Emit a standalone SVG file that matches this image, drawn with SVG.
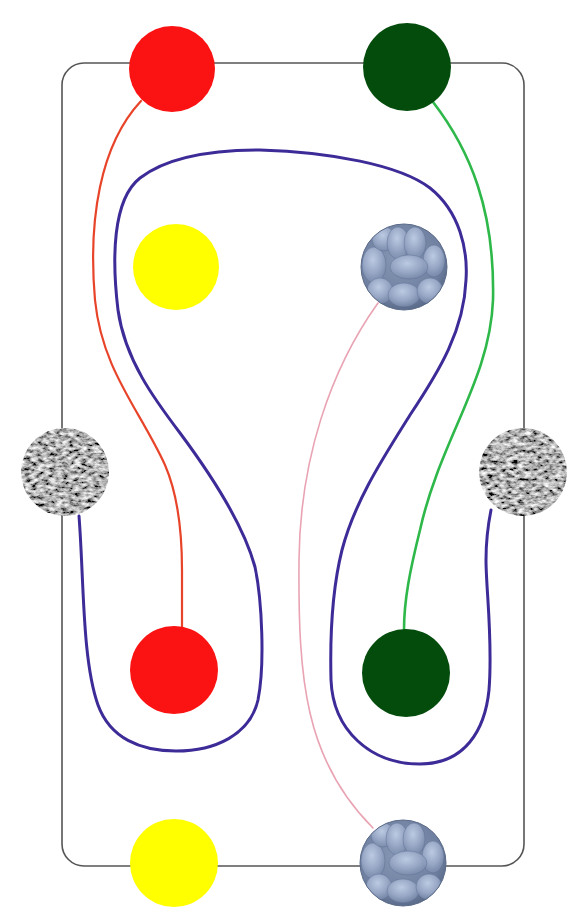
<svg xmlns="http://www.w3.org/2000/svg" width="581" height="922" viewBox="0 0 581 922">
<style>
.frame{fill:none;stroke:#555;stroke-width:1.6}
.wire{fill:none;stroke-linecap:round}
.red-w{stroke:#e8442a;stroke-width:2.2}
.green-w{stroke:#2fb84a;stroke-width:2.6}
.pink-w{stroke:#e9a3b3;stroke-width:1.6}
.purple-w{stroke:#3d2c98;stroke-width:3}
.red{fill:#fb1212}
.dkgreen{fill:#034c0c}
.yellow{fill:#ffff00}
.gray{fill:#888}
</style>
<defs>
<filter id="noise" x="0" y="0" width="1" height="1">
<feTurbulence type="fractalNoise" baseFrequency="0.16 0.28" numOctaves="3" seed="7" result="t"/>
<feColorMatrix in="t" type="matrix" values="1.8 0 0 0 -0.45  1.8 0 0 0 -0.45  1.8 0 0 0 -0.45  0 0 0 0 1" result="g"/>
<feComposite in="g" in2="SourceGraphic" operator="in"/>
</filter>
<radialGradient id="blueBase" cx="0.45" cy="0.4" r="0.6">
<stop offset="0" stop-color="#8797b5"/>
<stop offset="0.8" stop-color="#6f80a0"/>
<stop offset="1" stop-color="#5b6b8a"/>
</radialGradient>
<radialGradient id="lobe" cx="0.45" cy="0.35" r="0.7">
<stop offset="0" stop-color="#bccae2"/>
<stop offset="0.55" stop-color="#96a6c4"/>
<stop offset="1" stop-color="#7a8aab" stop-opacity="0.6"/>
</radialGradient>
<clipPath id="bclip"><circle cx="0" cy="0" r="43"/></clipPath>
<g id="bubble">
<circle cx="0" cy="0" r="43" fill="url(#blueBase)"/>
<g clip-path="url(#bclip)" stroke="#55648a" stroke-width="0.6" stroke-opacity="0.6" fill="url(#lobe)">
<ellipse cx="-30" cy="-2" rx="12" ry="18"/>
<ellipse cx="-24" cy="24" rx="13" ry="13"/>
<ellipse cx="0" cy="28" rx="16" ry="12"/>
<ellipse cx="26" cy="24" rx="13" ry="13"/>
<ellipse cx="30" cy="-6" rx="11" ry="16"/>
<ellipse cx="-20" cy="-28" rx="12" ry="12"/>
<ellipse cx="-6" cy="-24" rx="11" ry="16"/>
<ellipse cx="11" cy="-24" rx="11" ry="16"/>
<ellipse cx="5" cy="0" rx="19" ry="12"/>
</g>
<circle cx="0" cy="0" r="43" fill="none" stroke="#5a6a88" stroke-width="1"/>
</g>
</defs>

<rect class="frame" x="62" y="63" width="462" height="803" rx="22" ry="22"/>

<g id="connectors">
<path class="wire red-w" d="M141,101 C 100,145 88,220 95,300 C 102,370 140,410 165,465 C 178,495 182,530 182,570 L 182,628"/>
<path class="wire green-w" d="M433,102 C 470,150 495,210 493,300 C 490,380 440,440 420,530 C 410,570 404,600 404,630"/>
<path class="wire pink-w" d="M378,303 C 330,370 300,460 299,560 C 298,680 305,760 373,828"/>
<path class="wire purple-w" d="M79,516 C 84,580 82,660 98,705 C 110,738 140,751 176,751 C 215,751 250,735 258,700 C 265,665 262,600 255,567 C 245,530 215,480 180,433 C 155,400 125,360 118,310 C 112,260 112,200 140,178 C 170,155 220,150 260,150 C 330,152 400,165 430,188 C 460,212 468,250 466,280 C 464,330 440,370 410,415 C 385,455 355,500 342,550 C 332,590 330,640 331,680 C 333,730 370,764 420,764 C 465,764 485,730 489,690 C 493,640 486,590 486,560 C 486,540 488,525 491,510"/>
</g>

<g id="red-top"><circle class="red" cx="172" cy="69" r="43"/></g>
<g id="green-top"><circle class="dkgreen" cx="407" cy="67" r="44"/></g>
<g id="yellow-top"><circle class="yellow" cx="176" cy="267" r="43"/></g>
<g id="blue-top"><use href="#bubble" x="404" y="267"/></g>
<g id="gray-left"><circle class="gray" cx="65" cy="472" r="44" filter="url(#noise)"/></g>
<g id="gray-right"><circle class="gray" cx="523" cy="472" r="44" filter="url(#noise)"/></g>
<g id="red-bottom"><circle class="red" cx="174" cy="670" r="44"/></g>
<g id="green-bottom"><circle class="dkgreen" cx="406" cy="673" r="44"/></g>
<g id="yellow-bottom"><circle class="yellow" cx="174" cy="863" r="44"/></g>
<g id="blue-bottom"><use href="#bubble" x="403" y="863"/></g>
</svg>
